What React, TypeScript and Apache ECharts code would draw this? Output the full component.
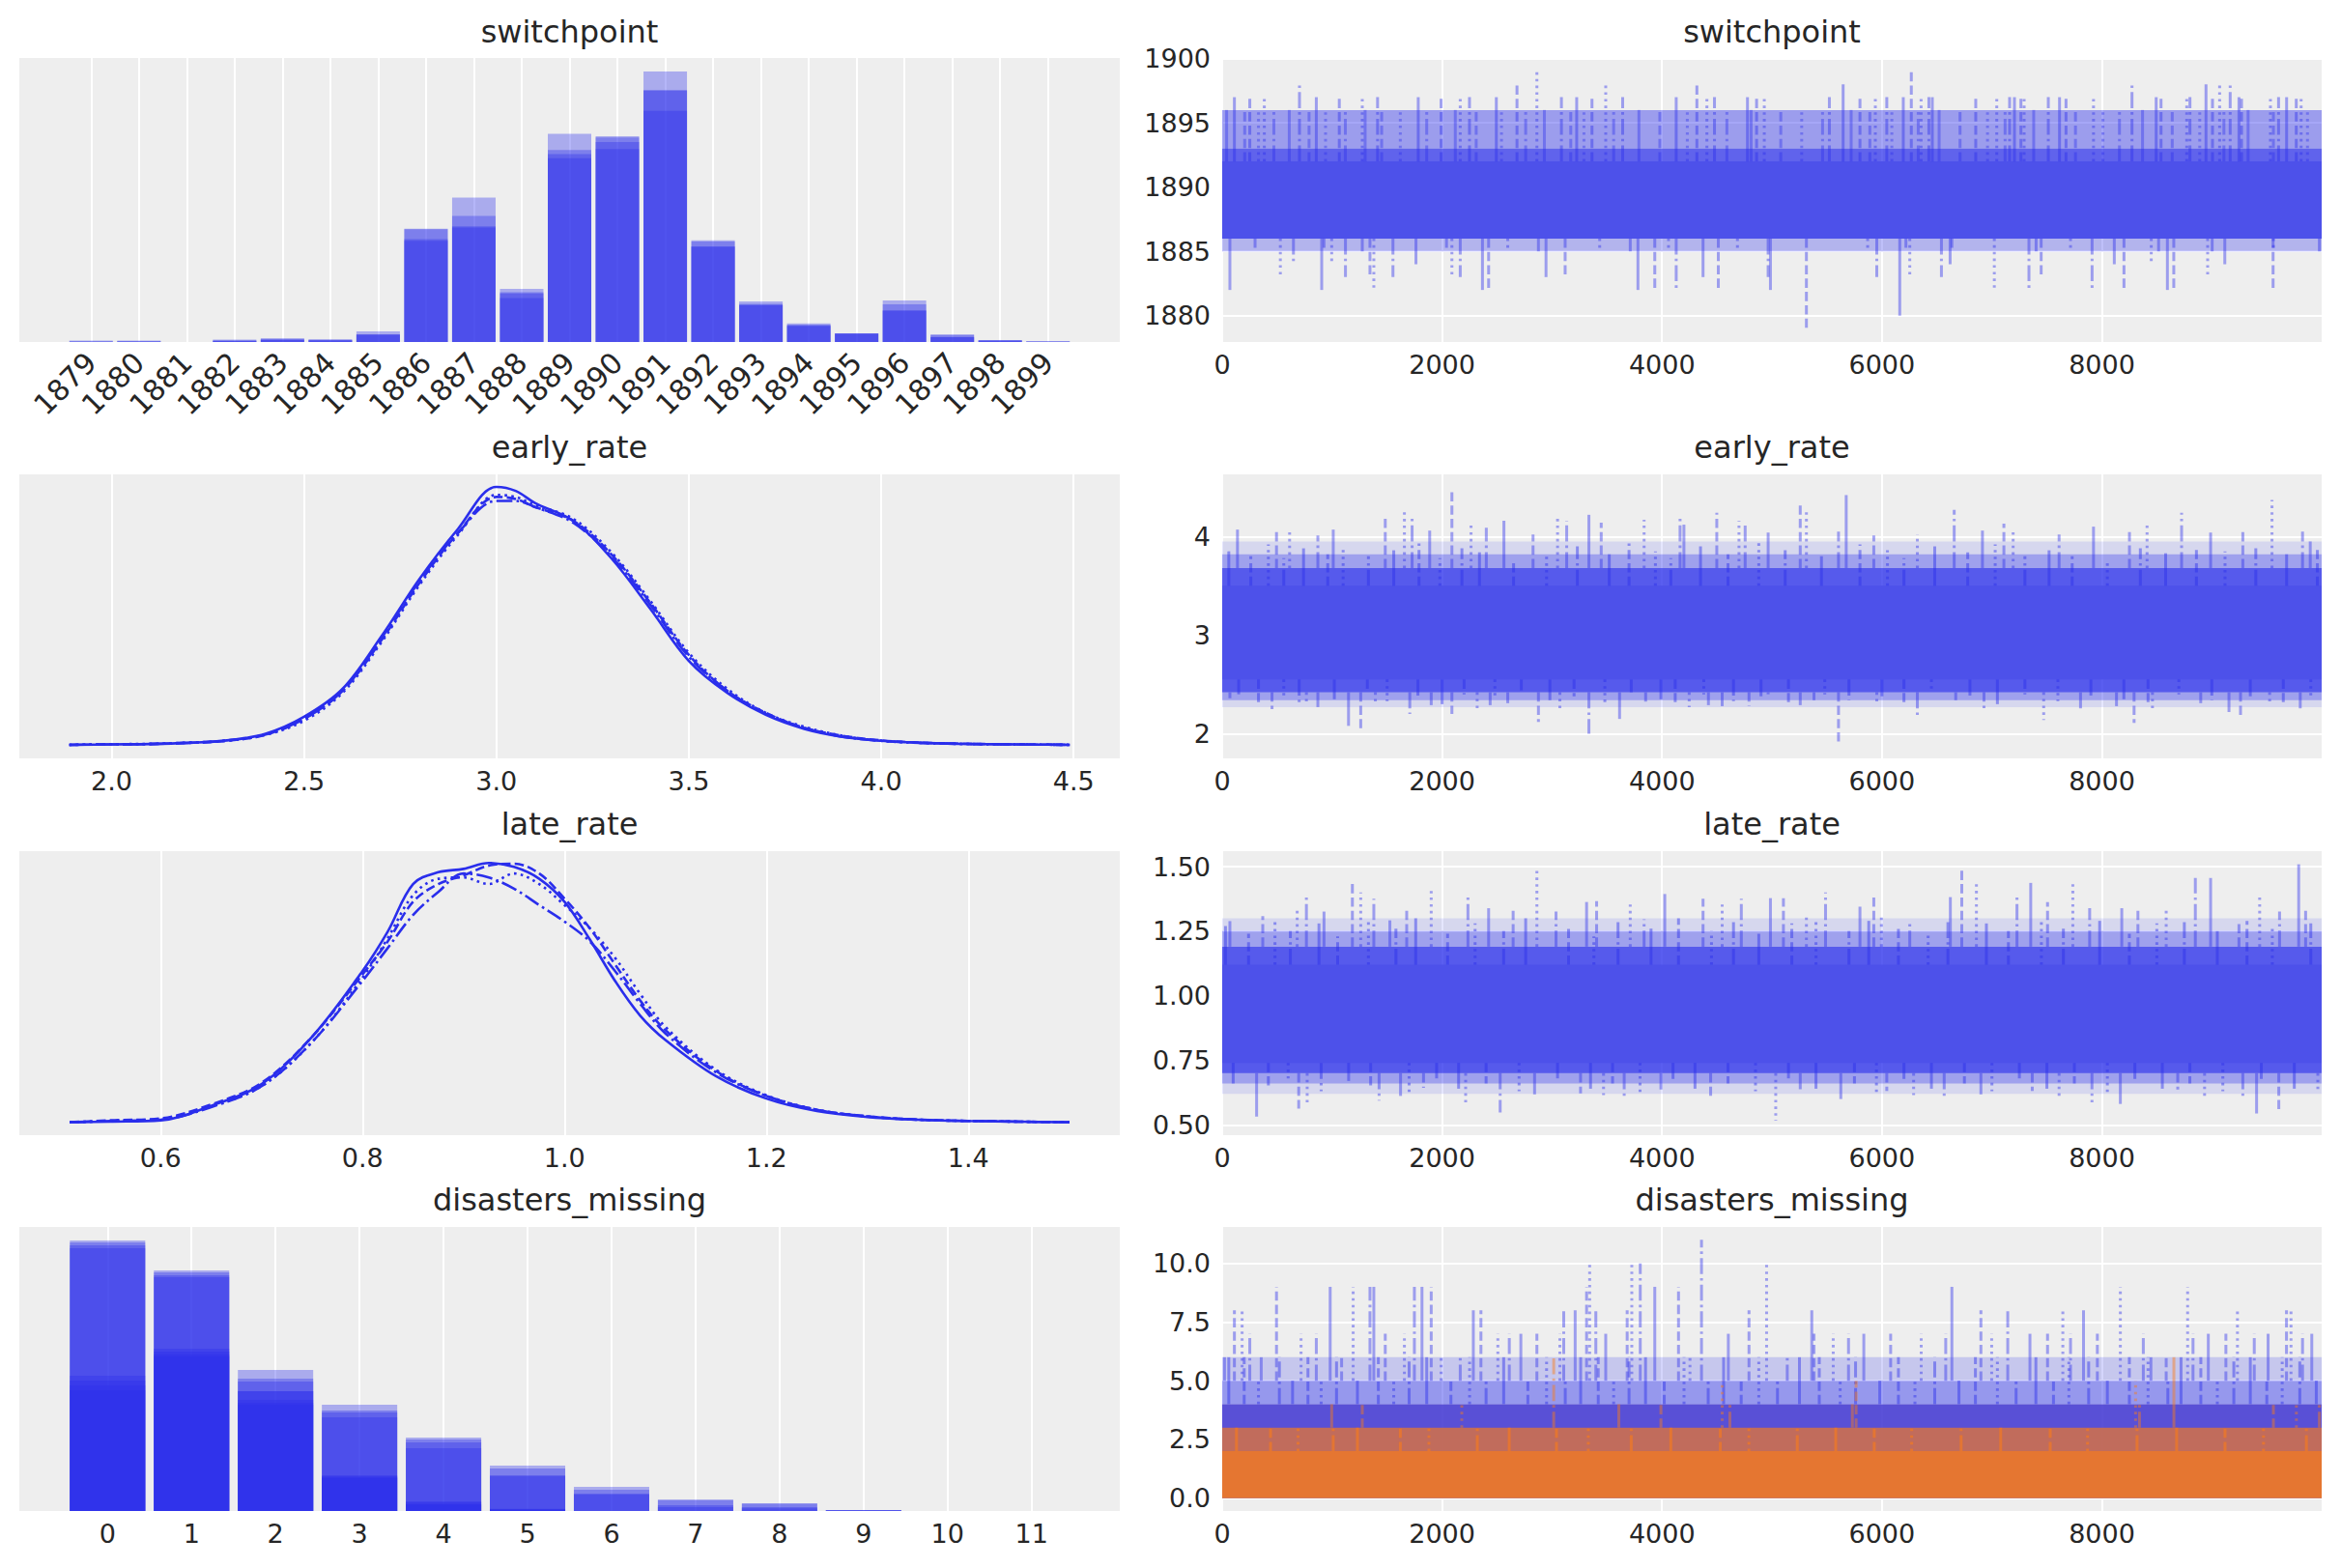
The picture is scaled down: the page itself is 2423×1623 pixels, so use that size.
import React, { useEffect, useRef } from "react";
import * as echarts from "echarts";

// ---------------- data ----------------
const YEARS = [1879, 1880, 1881, 1882, 1883, 1884, 1885, 1886, 1887, 1888, 1889, 1890, 1891, 1892, 1893, 1894, 1895, 1896, 1897, 1898, 1899];
const SW_C0 = [0.001, 0.001, 0, 0.002, 0.0033, 0.0025, 0.0092, 0.098, 0.125, 0.046, 0.18, 0.178, 0.234, 0.088, 0.035, 0.016, 0.0075, 0.036, 0.0067, 0.0017, 0.0008];
const SW_C1 = [0.001, 0.001, 0, 0.0013, 0.0025, 0.0017, 0.0067, 0.0975, 0.109, 0.043, 0.166, 0.177, 0.218, 0.087, 0.033, 0.015, 0.0075, 0.0325, 0.0058, 0.0017, 0.0006];
const SW_C2 = [0, 0.0005, 0, 0.001, 0.002, 0.0017, 0.0067, 0.089, 0.1, 0.042, 0.1625, 0.173, 0.2175, 0.0825, 0.032, 0.014, 0.007, 0.0275, 0.0042, 0.0013, 0];
const SW_C3 = [0, 0, 0, 0.001, 0.0017, 0.0013, 0.0058, 0.0875, 0.099, 0.038, 0.159, 0.167, 0.2, 0.0825, 0.032, 0.014, 0.007, 0.0267, 0.0042, 0.0008, 0];

const DM_X = [0, 1, 2, 3, 4, 5, 6, 7, 8, 9, 10, 11];
const DM_A0 = [0.28, 0.249, 0.146, 0.11, 0.076, 0.047, 0.025, 0.012, 0.008, 0.001, 0, 0];
const DM_A1 = [0.278, 0.247, 0.137, 0.104, 0.074, 0.044, 0.022, 0.011, 0.0075, 0.001, 0, 0];
const DM_A2 = [0.275, 0.244, 0.134, 0.102, 0.071, 0.037, 0.018, 0.006, 0.004, 0.001, 0, 0];
const DM_A3 = [0.272, 0.242, 0.124, 0.097, 0.065, 0.036, 0.017, 0.004, 0.0027, 0.0007, 0, 0];
const DM_B0 = [0.14, 0.168, 0.124, 0.037, 0.01, 0.0023, 0, 0, 0, 0, 0, 0];
const DM_B1 = [0.135, 0.165, 0.115, 0.036, 0.009, 0.002, 0, 0, 0, 0, 0, 0];
const DM_B2 = [0.13, 0.162, 0.112, 0.035, 0.007, 0.0015, 0, 0, 0, 0, 0, 0];
const DM_B3 = [0.125, 0.16, 0.11, 0.034, 0.0067, 0.001, 0, 0, 0, 0, 0, 0];

const EARLY_X = [1.89, 2.0, 2.1, 2.2, 2.3, 2.4, 2.5, 2.6, 2.7, 2.8, 2.9, 3.0, 3.05, 3.1, 3.2, 3.3, 3.4, 3.5, 3.6, 3.7, 3.8, 3.9, 4.0, 4.1, 4.2, 4.3, 4.4, 4.49];
const EARLY_C0 = [0, 0.002, 0.004, 0.01, 0.022, 0.055, 0.14, 0.28, 0.54, 0.83, 1.08, 1.29, 1.27, 1.21, 1.12, 0.93, 0.68, 0.42, 0.26, 0.15, 0.08, 0.04, 0.02, 0.01, 0.005, 0.003, 0.001, 0];
const EARLY_C1 = [0, 0.002, 0.004, 0.01, 0.02, 0.05, 0.13, 0.27, 0.52, 0.81, 1.06, 1.24, 1.23, 1.19, 1.12, 0.95, 0.71, 0.45, 0.27, 0.16, 0.085, 0.045, 0.022, 0.011, 0.006, 0.003, 0.001, 0];
const EARLY_C2 = [0, 0.003, 0.005, 0.011, 0.021, 0.05, 0.12, 0.26, 0.51, 0.8, 1.05, 1.25, 1.24, 1.2, 1.13, 0.96, 0.72, 0.46, 0.28, 0.16, 0.09, 0.045, 0.02, 0.01, 0.005, 0.003, 0.001, 0];
const EARLY_C3 = [0, 0.002, 0.004, 0.01, 0.022, 0.052, 0.13, 0.27, 0.53, 0.82, 1.06, 1.22, 1.22, 1.19, 1.11, 0.94, 0.7, 0.44, 0.27, 0.155, 0.085, 0.04, 0.02, 0.01, 0.005, 0.002, 0.001, 0];

const LATE_X = [0.51, 0.55, 0.6, 0.65, 0.7, 0.75, 0.8, 0.825, 0.85, 0.875, 0.9, 0.925, 0.95, 0.975, 1.0, 1.025, 1.05, 1.075, 1.1, 1.15, 1.2, 1.25, 1.3, 1.35, 1.4, 1.45, 1.5];
const LATE_C0 = [0, 0.01, 0.03, 0.25, 0.58, 1.3, 2.3, 2.9, 3.62, 3.8, 3.85, 3.94, 3.88, 3.7, 3.35, 2.78, 2.15, 1.62, 1.25, 0.7, 0.36, 0.17, 0.08, 0.04, 0.02, 0.01, 0];
const LATE_C1 = [0, 0.03, 0.06, 0.27, 0.6, 1.3, 2.25, 2.75, 3.35, 3.62, 3.75, 3.9, 3.93, 3.78, 3.4, 2.95, 2.4, 1.85, 1.4, 0.78, 0.4, 0.19, 0.09, 0.04, 0.02, 0.01, 0];
const LATE_C2 = [0, 0.02, 0.05, 0.24, 0.55, 1.22, 2.2, 2.8, 3.45, 3.7, 3.72, 3.62, 3.78, 3.62, 3.3, 2.95, 2.5, 1.95, 1.45, 0.8, 0.41, 0.19, 0.09, 0.04, 0.02, 0.01, 0];
const LATE_C3 = [0, 0.02, 0.04, 0.23, 0.55, 1.22, 2.15, 2.65, 3.15, 3.5, 3.78, 3.72, 3.55, 3.3, 3.05, 2.75, 2.3, 1.8, 1.35, 0.76, 0.4, 0.19, 0.09, 0.04, 0.02, 0.01, 0];

const DRAW_END = 9999;

// trace bands [low, high] (dense part of the traces), widest first
const SW_BANDS = [[1885, 1886], [1893, 1896], [1892, 1893], [1886, 1892]];
const EARLY_BANDS = [[2.27, 3.95], [2.34, 3.82], [2.42, 3.68], [2.55, 3.5]];
const LATE_BANDS = [[0.62, 1.3], [0.66, 1.25], [0.7, 1.19], [0.74, 1.12]];
const DM_BLUE_BANDS = [[5, 6], [4, 5], [0, 4]];
const DM_ORANGE_BANDS = [[3, 4], [2, 3], [0, 2]];

// trace spikes [draw, value]
const SW_UP = [[111, 1897], [251, 1897], [383, 1897], [703, 1898], [856, 1897], [1065, 1897], [1274, 1897], [1413, 1897], [1783, 1897], [1991, 1897], [2165, 1897], [2249, 1897], [2493, 1897], [2681, 1898], [2862, 1899], [3085, 1897], [3224, 1897], [3363, 1897], [3488, 1898], [3642, 1897], [4129, 1897], [4317, 1898], [4408, 1897], [4477, 1897], [4777, 1897], [4860, 1897], [4930, 1897], [5522, 1897], [5647, 1898], [5800, 1897], [5940, 1897], [6044, 1897], [6194, 1897], [6267, 1899], [6356, 1897], [6427, 1897], [6458, 1897], [6853, 1897], [7044, 1897], [7161, 1897], [7205, 1897], [7264, 1897], [7293, 1897], [7513, 1897], [7615, 1897], [7674, 1897], [7924, 1897], [8274, 1898], [8494, 1897], [8538, 1897], [8772, 1897], [8801, 1897], [8947, 1898], [9006, 1897], [9071, 1898], [9167, 1898], [9247, 1897], [9270, 1897], [9533, 1897], [9607, 1897], [9680, 1897], [9768, 1897], [9812, 1897]];
const SW_MID = [[40, 1896], [205, 1896], [330, 1896], [470, 1896], [610, 1896], [790, 1896], [940, 1896], [1120, 1896], [1300, 1896], [1450, 1896], [1620, 1896], [1860, 1896], [2120, 1896], [2310, 1896], [2540, 1896], [2760, 1896], [2930, 1896], [3170, 1896], [3290, 1896], [3560, 1896], [3790, 1896], [3980, 1896], [4230, 1896], [4590, 1896], [4810, 1896], [5080, 1896], [5270, 1896], [5460, 1896], [5720, 1896], [5890, 1896], [6090, 1896], [6330, 1896], [6520, 1896], [6710, 1896], [6960, 1896], [7120, 1896], [7380, 1896], [7760, 1896], [8010, 1896], [8160, 1896], [8370, 1896], [8640, 1896], [8890, 1896], [9110, 1896], [9330, 1896], [9560, 1896], [9870, 1896]];
const SW_DOWN = [[70, 1882], [299, 1885], [529, 1883], [648, 1884], [905, 1882], [926, 1885], [996, 1884], [1121, 1883], [1274, 1885], [1344, 1883], [1379, 1882], [1553, 1883], [1762, 1884], [2040, 1885], [2089, 1883], [2165, 1883], [2367, 1882], [2423, 1882], [2597, 1885], [2876, 1885], [2945, 1883], [3119, 1883], [3433, 1885], [3711, 1885], [3781, 1882], [3934, 1882], [4059, 1885], [4129, 1882], [4373, 1883], [4512, 1882], [4686, 1885], [4965, 1883], [4986, 1882], [5313, 1879], [5870, 1885], [5953, 1883], [6162, 1880], [6218, 1885], [6253, 1883], [6541, 1883], [6620, 1884], [6636, 1885], [7022, 1882], [7337, 1882], [7402, 1885], [7448, 1883], [7715, 1885], [7911, 1882], [8113, 1884], [8201, 1882], [8449, 1884], [8516, 1885], [8596, 1882], [8654, 1882], [8962, 1883], [9003, 1885], [9118, 1884], [9557, 1882], [9560, 1885], [9978, 1885]];

const EARLY_UP = [[139, 4.07], [494, 4.07], [613, 4.06], [870, 4.01], [1010, 4.07], [1483, 4.19], [1657, 4.25], [1727, 4.22], [1887, 4.06], [2089, 4.49], [2263, 4.11], [2402, 4.09], [2562, 4.16], [2827, 4.02], [3050, 4.2], [3133, 4.16], [3335, 4.22], [3447, 4.14], [3837, 4.17], [4164, 4.19], [4199, 4.12], [4498, 4.24], [4700, 4.16], [4756, 4.11], [4965, 4.04], [5257, 4.34], [5313, 4.25], [5605, 4.05], [5675, 4.42], [5926, 4.01], [6322, 4.02], [6657, 4.27], [6914, 4.06], [7109, 4.13], [7193, 4.06], [7611, 4.02], [7924, 4.1], [8251, 4.05], [8411, 4.11], [8725, 4.24], [8989, 4.04], [9282, 4.05], [9547, 4.37], [9825, 4.05], [9895, 3.95]];
const EARLY_UP_MID = [[60, 3.85], [260, 3.8], [420, 3.92], [560, 3.78], [740, 3.88], [960, 3.82], [1100, 3.9], [1330, 3.8], [1560, 3.86], [1790, 3.93], [1980, 3.78], [2180, 3.88], [2340, 3.84], [2650, 3.74], [2950, 3.83], [3230, 3.9], [3520, 3.82], [3700, 3.93], [3940, 3.85], [4080, 3.78], [4350, 3.9], [4600, 3.82], [4880, 3.95], [5120, 3.86], [5450, 3.8], [5800, 3.92], [6050, 3.86], [6200, 3.78], [6480, 3.9], [6780, 3.84], [7030, 3.92], [7300, 3.8], [7520, 3.86], [7730, 3.8], [8050, 3.76], [8350, 3.88], [8580, 3.83], [8860, 3.9], [9120, 3.85], [9400, 3.88], [9680, 3.82], [9960, 3.9]];
const EARLY_DOWN = [[70, 2.36], [453, 2.25], [766, 2.3], [870, 2.27], [1149, 2.08], [1260, 2.05], [1393, 2.29], [1706, 2.2], [1901, 2.29], [2089, 2.2], [2319, 2.26], [2437, 2.29], [2597, 2.31], [2876, 2.12], [3071, 2.25], [3335, 2.0], [3614, 2.15], [3851, 2.29], [4247, 2.27], [4422, 2.29], [4547, 2.28], [4791, 2.28], [4965, 2.4], [5257, 2.29], [5382, 2.34], [5605, 1.9], [5953, 2.29], [6322, 2.17], [6671, 2.34], [6928, 2.26], [7471, 2.14], [7806, 2.25], [8133, 2.28], [8293, 2.11], [8460, 2.25], [8899, 2.31], [9156, 2.22], [9261, 2.15], [9526, 2.31], [9804, 2.22]];
const EARLY_DOWN_MID = [[150, 2.4], [330, 2.32], [560, 2.38], [700, 2.3], [1020, 2.35], [1320, 2.42], [1500, 2.33], [1780, 2.38], [2000, 2.3], [2200, 2.4], [2480, 2.36], [2720, 2.44], [2980, 2.34], [3200, 2.38], [3480, 2.3], [3720, 2.42], [3990, 2.35], [4120, 2.32], [4380, 2.4], [4650, 2.33], [4900, 2.38], [5150, 2.3], [5480, 2.4], [5700, 2.34], [6000, 2.38], [6200, 2.3], [6450, 2.42], [6800, 2.36], [7050, 2.3], [7300, 2.4], [7600, 2.33], [7900, 2.38], [8200, 2.35], [8420, 2.3], [8700, 2.4], [9000, 2.34], [9350, 2.38], [9650, 2.3], [9900, 2.36]];

const LATE_UP = [[70, 1.289], [369, 1.308], [682, 1.339], [766, 1.388], [926, 1.326], [1184, 1.443], [1260, 1.4], [1379, 1.376], [1525, 1.292], [1678, 1.333], [1901, 1.406], [2235, 1.382], [2423, 1.339], [2646, 1.341], [2862, 1.499], [3036, 1.326], [3314, 1.363], [3405, 1.366], [3711, 1.353], [3837, 1.296], [4025, 1.394], [4373, 1.376], [4547, 1.353], [4721, 1.376], [4986, 1.378], [5104, 1.378], [5313, 1.316], [5487, 1.4], [5800, 1.345], [5926, 1.388], [5995, 1.314], [6253, 1.283], [6622, 1.382], [6726, 1.493], [6859, 1.443], [7228, 1.394], [7353, 1.437], [7506, 1.363], [7736, 1.435], [7889, 1.339], [8181, 1.339], [8328, 1.339], [8585, 1.339], [8850, 1.456], [8989, 1.456], [9247, 1.289], [9435, 1.384], [9616, 1.326], [9790, 1.509], [9853, 1.339]];
const LATE_UP_MID = [[30, 1.27], [240, 1.24], [480, 1.3], [620, 1.25], [880, 1.28], [1050, 1.23], [1330, 1.29], [1580, 1.26], [1760, 1.3], [2050, 1.24], [2300, 1.28], [2560, 1.25], [2760, 1.3], [3150, 1.27], [3380, 1.23], [3600, 1.29], [3900, 1.26], [4150, 1.3], [4450, 1.25], [4650, 1.29], [4880, 1.24], [5180, 1.28], [5400, 1.3], [5700, 1.25], [5880, 1.29], [6150, 1.27], [6420, 1.24], [6600, 1.3], [6950, 1.28], [7150, 1.25], [7450, 1.3], [7650, 1.26], [7980, 1.29], [8250, 1.24], [8500, 1.28], [8750, 1.3], [9050, 1.25], [9320, 1.29], [9550, 1.26], [9900, 1.28]];
const LATE_DOWN = [[313, 0.532], [696, 0.563], [773, 0.587], [1427, 0.594], [1622, 0.612], [1831, 0.643], [2214, 0.578], [2528, 0.548], [2841, 0.618], [3259, 0.622], [3468, 0.615], [3656, 0.612], [3990, 0.637], [4442, 0.6], [5034, 0.516], [5257, 0.631], [5626, 0.6], [6044, 0.631], [6288, 0.615], [6566, 0.6], [6900, 0.618], [7367, 0.631], [7611, 0.612], [7910, 0.587], [8168, 0.581], [8690, 0.637], [8934, 0.612], [9282, 0.6], [9407, 0.544], [9609, 0.553], [9964, 0.631]];
const LATE_DOWN_MID = [[100, 0.66], [420, 0.64], [600, 0.68], [900, 0.63], [1150, 0.67], [1350, 0.65], [1700, 0.62], [1950, 0.68], [2150, 0.64], [2400, 0.66], [2700, 0.63], [3050, 0.68], [3350, 0.64], [3550, 0.66], [3800, 0.62], [4100, 0.67], [4300, 0.64], [4600, 0.66], [4850, 0.63], [5150, 0.68], [5400, 0.64], [5750, 0.66], [5950, 0.62], [6200, 0.67], [6450, 0.64], [6750, 0.66], [7000, 0.63], [7250, 0.68], [7500, 0.64], [7750, 0.66], [8050, 0.62], [8300, 0.67], [8550, 0.64], [8800, 0.66], [9100, 0.63], [9450, 0.67], [9750, 0.64]];

const DM_BLUE_UP = [[21, 6], [111, 8], [181, 8], [251, 7], [355, 6], [494, 9], [717, 7], [856, 7], [982, 9], [1086, 6], [1191, 9], [1344, 9], [1379, 9], [1483, 7], [1657, 7], [1748, 9], [1817, 9], [1901, 9], [1991, 6], [2165, 6], [2284, 8], [2353, 8], [2507, 7], [2611, 7], [2716, 7], [2862, 7], [3071, 7], [3106, 8], [3210, 8], [3314, 9], [3342, 10], [3398, 8], [3488, 7], [3683, 8], [3725, 10], [3802, 10], [3934, 9], [4150, 9], [4254, 6], [4359, 11], [4603, 7], [4791, 8], [4951, 10], [5139, 6], [5362, 8], [5382, 7], [5557, 7], [5696, 7], [5835, 7], [6079, 7], [6357, 7], [6580, 7], [6636, 9], [6900, 8], [6998, 7], [7144, 8], [7346, 7], [7506, 7], [7645, 8], [7715, 7], [7833, 8], [7959, 7], [8168, 9], [8377, 7], [8446, 6], [8585, 6], [8780, 9], [8829, 7], [8968, 7], [9128, 7], [9233, 8], [9386, 7], [9512, 7], [9679, 8], [9720, 8], [9825, 7], [9909, 7]];
const DM_BLUE_MID = [[60, 6], [200, 6], [330, 5], [520, 6], [640, 5], [780, 6], [900, 5], [1040, 6], [1230, 5], [1420, 6], [1560, 5], [1700, 6], [1860, 6], [2080, 5], [2250, 6], [2400, 5], [2560, 6], [2780, 5], [2950, 6], [3120, 5], [3260, 6], [3420, 6], [3560, 5], [3700, 6], [3850, 6], [4020, 5], [4200, 6], [4420, 5], [4560, 6], [4720, 5], [4880, 6], [5050, 5], [5250, 6], [5430, 6], [5620, 5], [5760, 6], [5980, 5], [6150, 6], [6300, 5], [6480, 6], [6700, 5], [6850, 6], [7050, 6], [7220, 5], [7400, 6], [7560, 5], [7700, 6], [7880, 6], [8050, 5], [8250, 6], [8420, 6], [8600, 5], [8720, 6], [8900, 6], [9050, 5], [9200, 6], [9350, 6], [9500, 5], [9640, 6], [9800, 6], [9950, 5]];
const DM_ORANGE_UP = [[996, 4], [1274, 4], [2179, 4], [3015, 6], [3607, 4], [3990, 4], [4547, 5], [4617, 4], [5731, 4], [5765, 5], [8307, 5], [8342, 4], [8655, 6], [9560, 4], [9769, 4], [9978, 4]];
const DM_ORANGE_MID = [[130, 3], [440, 3], [690, 3], [1010, 3], [1230, 3], [1620, 3], [1880, 3], [2320, 3], [2610, 3], [3040, 3], [3330, 3], [3720, 3], [4080, 3], [4530, 3], [4790, 3], [5230, 3], [5580, 3], [5930, 3], [6270, 3], [6720, 3], [7080, 3], [7530, 3], [7870, 3], [8320, 3], [8680, 3], [9120, 3], [9470, 3], [9860, 3]];

// axis ticks
const SW_TICKS = YEARS;
const EARLY_TICKS = [2.0, 2.5, 3.0, 3.5, 4.0, 4.5];
const LATE_TICKS = [0.6, 0.8, 1.0, 1.2, 1.4];
const DM_TICKS = DM_X;
const DRAW_TICKS = [0, 2000, 4000, 6000, 8000];
const SW_TRACE_TICKS = [1880, 1885, 1890, 1895, 1900];
const EARLY_TRACE_TICKS = [2, 3, 4];
const LATE_TRACE_TICKS = [0.5, 0.75, 1.0, 1.25, 1.5];
const DM_TRACE_TICKS = [0, 2.5, 5, 7.5, 10];

const TITLES = ["switchpoint", "early_rate", "late_rate", "disasters_missing"];

// ---------------- styles / layout ----------------
const FONT = "DejaVu Sans";
const TEXT = "#262626";
const BLUE = "#2a2eec";
const BLUE_RGB = "42,46,236";
const ORANGE_RGB = "250,124,23";
const CORE = "rgb(77,81,234)";
const LW = 2.6;
const DASHES: (number[] | null)[] = [null, [9.6, 4.2], [2.6, 4.3], [16.6, 4.2, 2.6, 4.2]];
const KDE_TYPES: any[] = ["solid", [9.6, 4.2], [2.6, 4.3], [16.6, 4.2, 2.6, 4.2]];

const LEFT_X = 20;
const LEFT_W = 1139;
const RIGHT_X = 1265;
const RIGHT_W = 1138;
const ROW_TOP = [60, 491, 881, 1270];
const ROW_H = 294;
const TITLE_Y = [33, 463, 853, 1242];

function xAxisDef(gi: number, min: number, max: number, ticks: number[], fmt: (v: number) => string, rotate = 0) {
  return {
    type: "value",
    gridIndex: gi,
    min,
    max,
    axisLine: { show: false },
    axisTick: { show: false, customValues: ticks },
    axisLabel: {
      customValues: ticks,
      formatter: (v: number) => fmt(v),
      fontSize: rotate ? 30 : 27,
      fontFamily: FONT,
      color: TEXT,
      margin: rotate ? 16 : 10,
      rotate,
    },
    splitLine: { show: true, lineStyle: { color: "#ffffff", width: 2 } },
  };
}

function yAxisHidden(gi: number, min: number, max: number) {
  return { type: "value", gridIndex: gi, min, max, show: false };
}

function yAxisDef(gi: number, min: number, max: number, ticks: number[], fmt: (v: number) => string) {
  return {
    type: "value",
    gridIndex: gi,
    min,
    max,
    axisLine: { show: false },
    axisTick: { show: false, customValues: ticks },
    axisLabel: {
      customValues: ticks,
      formatter: (v: number) => fmt(v),
      fontSize: 27,
      fontFamily: FONT,
      color: TEXT,
      margin: 12,
    },
    splitLine: { show: true, lineStyle: { color: "#ffffff", width: 2 } },
  };
}

function barSeries(ai: number, xs: number[], vals: number[], width: number) {
  return {
    type: "bar",
    xAxisIndex: ai,
    yAxisIndex: ai,
    data: xs.map((x, i) => [x, vals[i]]),
    barWidth: width,
    barGap: "-100%",
    itemStyle: { color: `rgba(${BLUE_RGB},0.35)` },
    silent: true,
  };
}

function kdeSeries(ai: number, xs: number[], vals: number[], k: number) {
  return {
    type: "line",
    xAxisIndex: ai,
    yAxisIndex: ai,
    data: xs.map((x, i) => [x, vals[i]]),
    showSymbol: false,
    smooth: 0.35,
    lineStyle: { color: BLUE, width: LW, type: KDE_TYPES[k] },
    silent: true,
  };
}

function bandSeries(ai: number, lo: number, hi: number, fill: string) {
  return {
    type: "custom",
    xAxisIndex: ai,
    yAxisIndex: ai,
    silent: true,
    data: [[0, DRAW_END, lo, hi]],
    encode: { x: [0, 1], y: [2, 3] },
    renderItem: (_p: any, api: any) => {
      const a = api.coord([api.value(0), api.value(3)]);
      const b = api.coord([api.value(1), api.value(2)]);
      return {
        type: "rect",
        shape: { x: a[0], y: a[1], width: b[0] - a[0], height: b[1] - a[1] },
        style: { fill },
      };
    },
  };
}

function spikeSeries(ai: number, spikes: number[][], base: number, stroke: string, width = 3) {
  return {
    type: "custom",
    xAxisIndex: ai,
    yAxisIndex: ai,
    silent: true,
    data: spikes.map(([d, v]) => [d, base, v]),
    encode: { x: 0, y: [1, 2] },
    renderItem: (p: any, api: any) => {
      const a = api.coord([api.value(0), api.value(1)]);
      const b = api.coord([api.value(0), api.value(2)]);
      return {
        type: "line",
        shape: { x1: a[0], y1: a[1], x2: b[0], y2: b[1] },
        style: { stroke, lineWidth: width, lineDash: DASHES[p.dataIndex % 4], fill: null },
      };
    },
  };
}

const BAND_ALPHA_4 = [0.12, 0.32, 0.62, 1];
const blueA = (a: number) => (a >= 1 ? CORE : `rgba(${BLUE_RGB},${a})`);

function buildOption() {
  const grids: any[] = [];
  for (let r = 0; r < 4; r++) {
    grids.push({ left: LEFT_X, top: ROW_TOP[r], width: LEFT_W, height: ROW_H, show: true, backgroundColor: "#eeeeee", borderWidth: 0 });
    grids.push({ left: RIGHT_X, top: ROW_TOP[r], width: RIGHT_W, height: ROW_H, show: true, backgroundColor: "#eeeeee", borderWidth: 0 });
  }
  const int = (v: number) => String(Math.round(v));
  const f1 = (v: number) => v.toFixed(1);
  const f2 = (v: number) => v.toFixed(2);

  const xAxis = [
    xAxisDef(0, 1877.5, 1900.5, SW_TICKS, int, 45),
    xAxisDef(1, 0, DRAW_END, DRAW_TICKS, int),
    xAxisDef(2, 1.76, 4.62, EARLY_TICKS, f1),
    xAxisDef(3, 0, DRAW_END, DRAW_TICKS, int),
    xAxisDef(4, 0.46, 1.55, LATE_TICKS, f1),
    xAxisDef(5, 0, DRAW_END, DRAW_TICKS, int),
    xAxisDef(6, -1.05, 12.05, DM_TICKS, int),
    xAxisDef(7, 0, DRAW_END, DRAW_TICKS, int),
  ];
  const yAxis = [
    yAxisHidden(0, 0, 0.2457),
    yAxisDef(1, 1877.95, 1900.05, SW_TRACE_TICKS, int),
    yAxisHidden(2, -0.068, 1.353),
    yAxisDef(3, 1.75, 4.63, EARLY_TRACE_TICKS, int),
    yAxisHidden(4, -0.196, 4.12),
    yAxisDef(5, 0.46, 1.56, LATE_TRACE_TICKS, f2),
    yAxisHidden(6, 0, 0.294),
    yAxisDef(7, -0.55, 11.55, DM_TRACE_TICKS, f1),
  ];

  const series: any[] = [];
  [SW_C0, SW_C1, SW_C2, SW_C3].forEach((c) => series.push(barSeries(0, YEARS, c, 45)));
  [DM_A0, DM_A1, DM_A2, DM_A3, DM_B0, DM_B1, DM_B2, DM_B3].forEach((c) => series.push(barSeries(6, DM_X, c, 78)));
  [EARLY_C0, EARLY_C1, EARLY_C2, EARLY_C3].forEach((c, k) => series.push(kdeSeries(2, EARLY_X, c, k)));
  [LATE_C0, LATE_C1, LATE_C2, LATE_C3].forEach((c, k) => series.push(kdeSeries(4, LATE_X, c, k)));

  const spikeBlue = `rgba(${BLUE_RGB},0.42)`;
  const spikeBlueMid = `rgba(${BLUE_RGB},0.45)`;

  // switchpoint trace
  const swAlpha = [0.3, 0.42, 0.72, 1];
  SW_BANDS.forEach((b, i) => series.push(bandSeries(1, b[0], b[1], blueA(swAlpha[i]))));
  series.push(spikeSeries(1, SW_MID, SW_BANDS[3][1], `rgba(${BLUE_RGB},0.38)`));
  series.push(spikeSeries(1, SW_UP, SW_BANDS[3][1], spikeBlue));
  series.push(spikeSeries(1, SW_DOWN, SW_BANDS[3][0], spikeBlue));

  // early_rate trace
  EARLY_BANDS.forEach((b, i) => series.push(bandSeries(3, b[0], b[1], blueA(BAND_ALPHA_4[i]))));
  series.push(spikeSeries(3, EARLY_UP_MID, EARLY_BANDS[3][1], spikeBlueMid));
  series.push(spikeSeries(3, EARLY_DOWN_MID, EARLY_BANDS[3][0], spikeBlueMid));
  series.push(spikeSeries(3, EARLY_UP, EARLY_BANDS[2][1], spikeBlue));
  series.push(spikeSeries(3, EARLY_DOWN, EARLY_BANDS[2][0], spikeBlue));

  // late_rate trace
  LATE_BANDS.forEach((b, i) => series.push(bandSeries(5, b[0], b[1], blueA(BAND_ALPHA_4[i]))));
  series.push(spikeSeries(5, LATE_UP_MID, LATE_BANDS[3][1], spikeBlueMid));
  series.push(spikeSeries(5, LATE_DOWN_MID, LATE_BANDS[3][0], spikeBlueMid));
  series.push(spikeSeries(5, LATE_UP, LATE_BANDS[2][1], spikeBlue));
  series.push(spikeSeries(5, LATE_DOWN, LATE_BANDS[2][0], spikeBlue));

  // disasters_missing trace
  const dmBlueAlpha = [0.2, 0.45, 0.85];
  DM_BLUE_BANDS.forEach((b, i) => series.push(bandSeries(7, b[0], b[1], `rgba(${BLUE_RGB},${dmBlueAlpha[i]})`)));
  series.push(spikeSeries(7, DM_BLUE_MID, DM_BLUE_BANDS[2][1], spikeBlueMid));
  series.push(spikeSeries(7, DM_BLUE_UP, DM_BLUE_BANDS[0][0], spikeBlue));
  const dmOrangeAlpha = [0.1, 0.68, 0.88];
  DM_ORANGE_BANDS.forEach((b, i) => series.push(bandSeries(7, b[0], b[1], `rgba(${ORANGE_RGB},${dmOrangeAlpha[i]})`)));
  series.push(spikeSeries(7, DM_ORANGE_MID, DM_ORANGE_BANDS[2][1], `rgba(${ORANGE_RGB},0.6)`));
  series.push(spikeSeries(7, DM_ORANGE_UP, DM_ORANGE_BANDS[0][0], `rgba(${ORANGE_RGB},0.45)`));

  const graphic: any[] = [];
  for (let r = 0; r < 4; r++) {
    [LEFT_X + LEFT_W / 2, RIGHT_X + RIGHT_W / 2].forEach((cx) => {
      graphic.push({
        type: "text",
        x: cx,
        y: TITLE_Y[r],
        silent: true,
        style: { text: TITLES[r], fontSize: 32, fontFamily: FONT, fill: TEXT, align: "center", verticalAlign: "middle" },
      });
    });
  }

  return {
    animation: false,
    backgroundColor: "#ffffff",
    textStyle: { fontFamily: FONT },
    grid: grids,
    xAxis,
    yAxis,
    series,
    graphic,
  };
}

export default function App() {
  const ref = useRef<HTMLDivElement>(null);
  useEffect(() => {
    if (!ref.current) return;
    const chart = echarts.init(ref.current, undefined, { renderer: "svg" });
    chart.setOption(buildOption() as any);
    return () => chart.dispose();
  }, []);
  return <div ref={ref} style={{ position: "fixed", left: 0, top: 0, width: 2423, height: 1623, background: "#fff" }} />;
}
